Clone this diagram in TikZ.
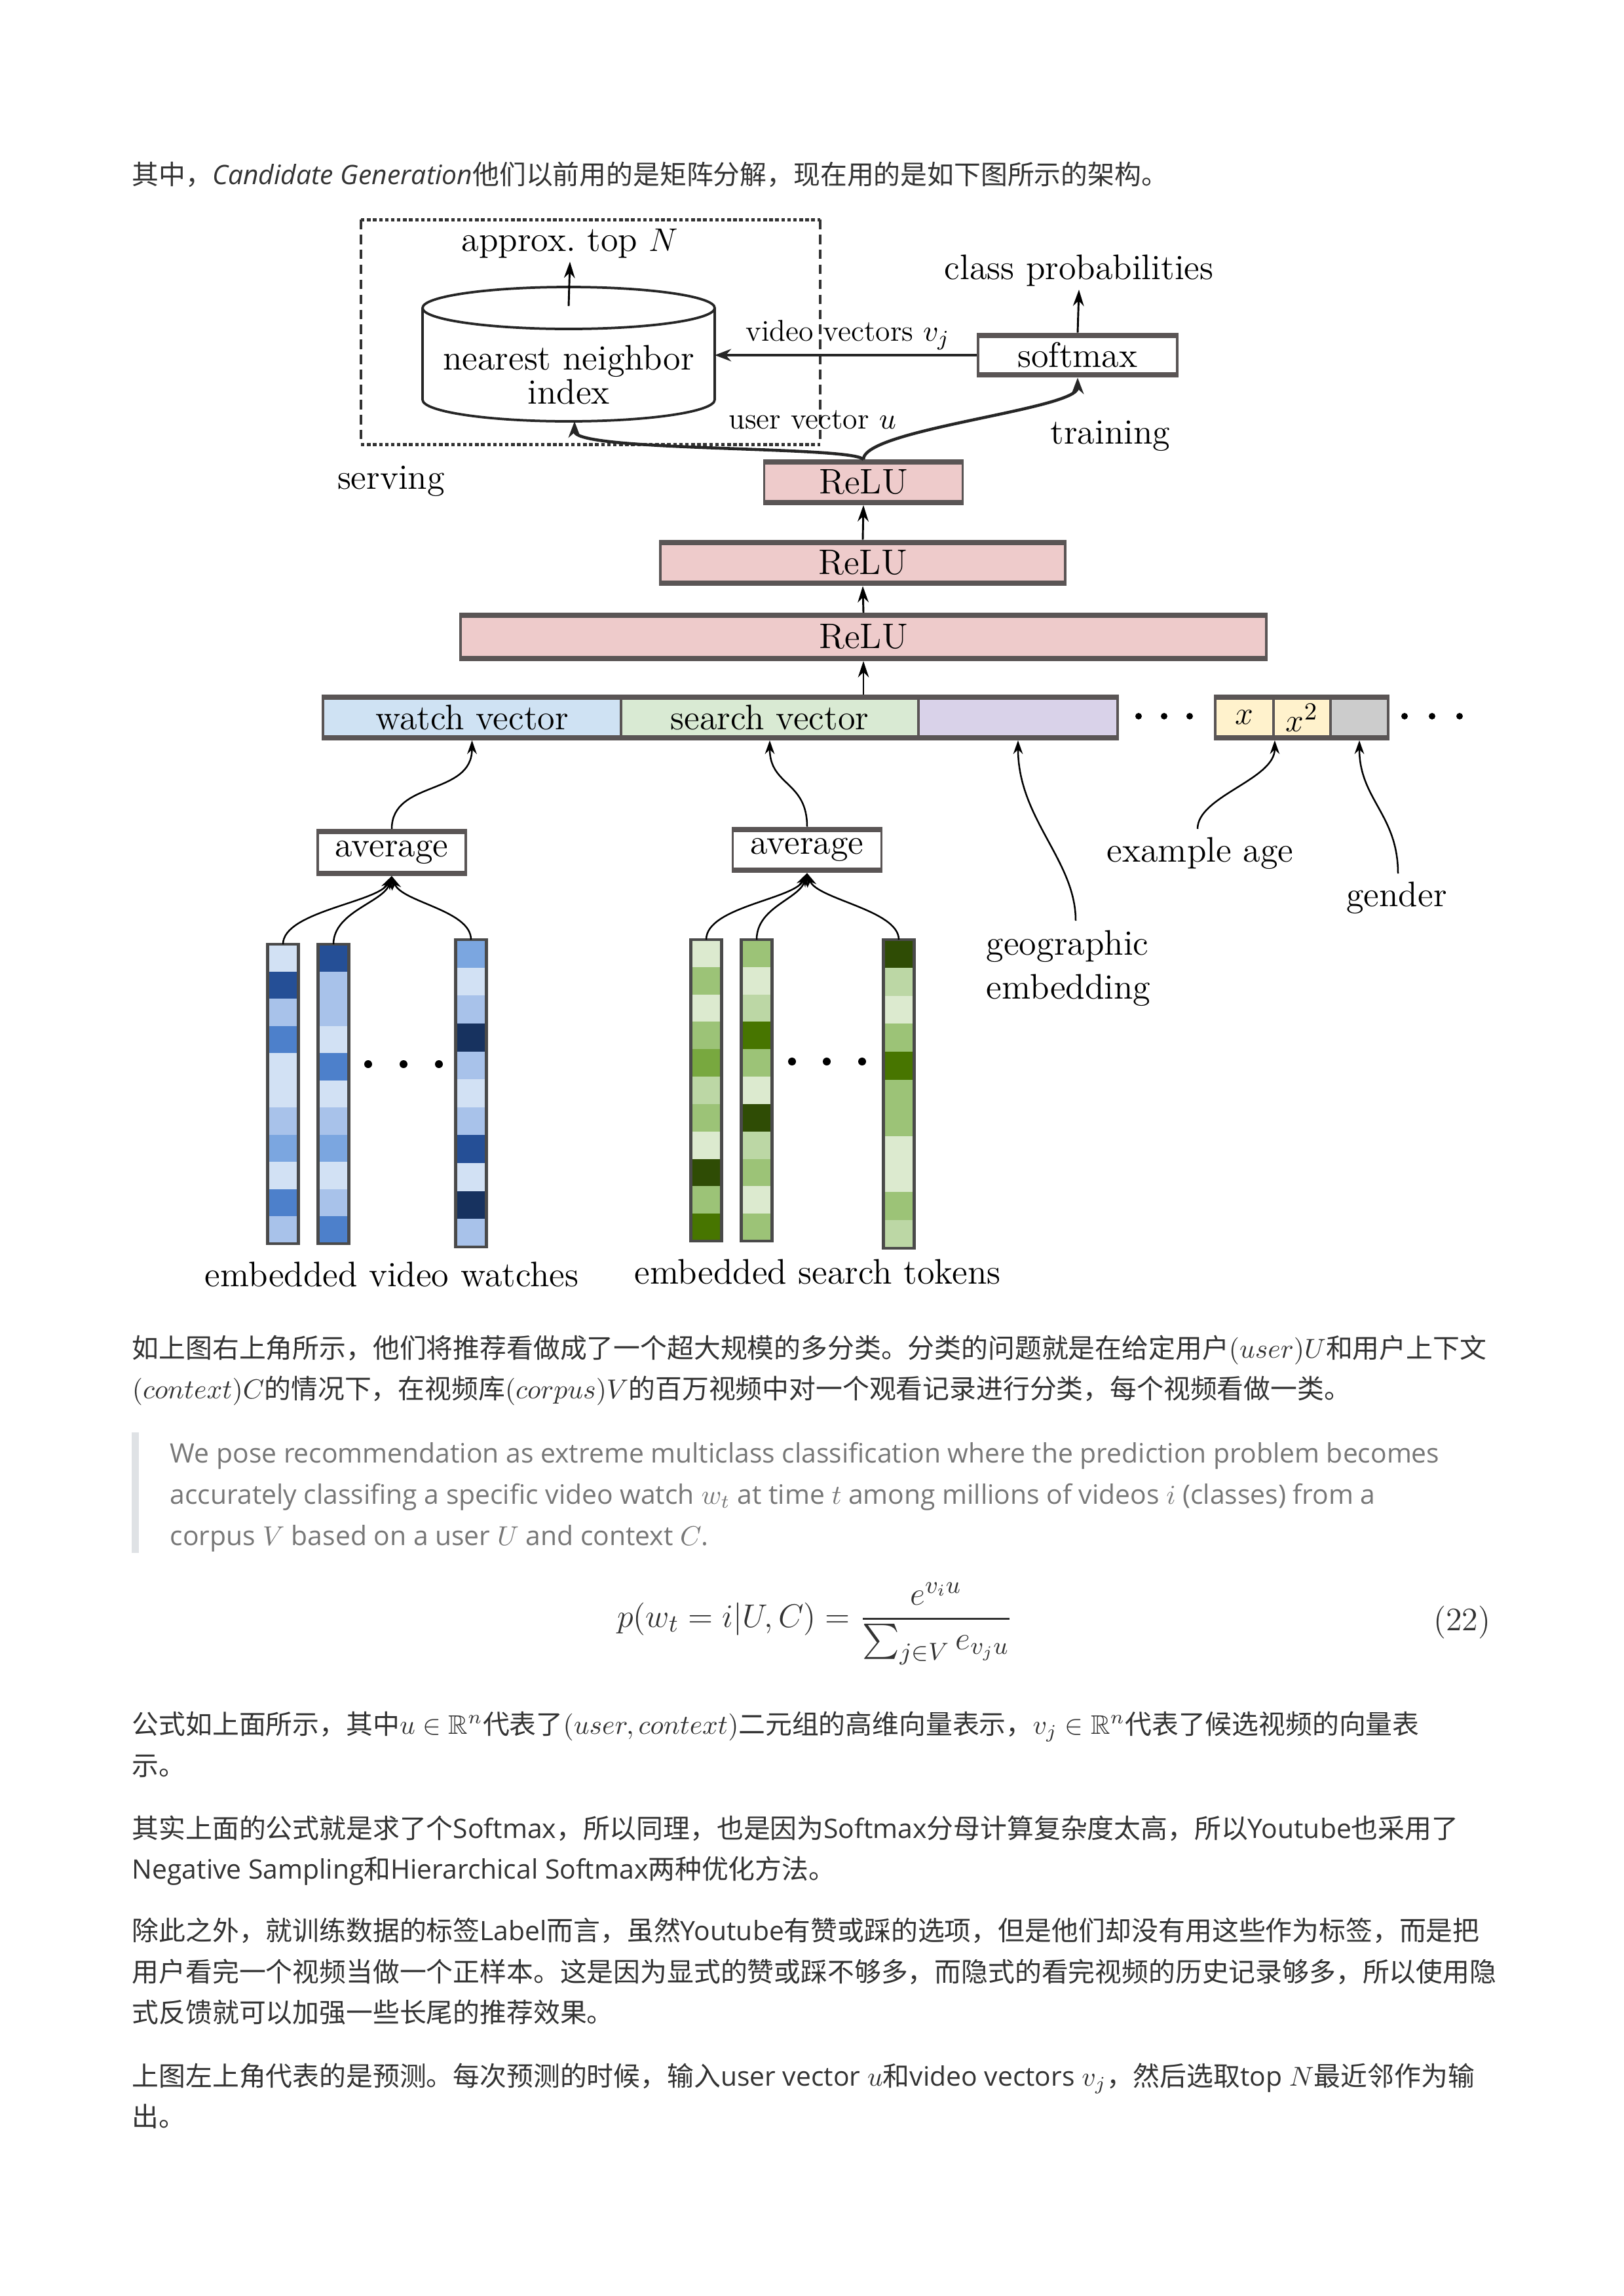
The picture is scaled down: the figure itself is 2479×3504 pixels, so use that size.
\documentclass[tikz,border=0pt]{standalone}
\usepackage{amsmath,amssymb}
\usepackage[no-math]{fontspec}
\setmainfont{Noto Sans CJK SC}
\newfontfamily\os{Open Sans}
\usetikzlibrary{arrows.meta}
\newcommand{\upx}{0.24pt}
\newcommand{\dgf}{\fontfamily{lmr}\fontsize{13}{16}\selectfont}
\newcommand{\dgs}{\fontfamily{lmr}\fontsize{11}{13}\selectfont}
\definecolor{txt}{HTML}{333333}
\definecolor{qtxt}{HTML}{777777}
\definecolor{qbar}{HTML}{DFE2E5}
\definecolor{boxline}{HTML}{5A5555}
\definecolor{colline}{HTML}{4A4A4A}
\definecolor{pinkc}{HTML}{EECBCB}
\definecolor{bluec}{HTML}{CFE2F3}
\definecolor{greenc}{HTML}{D9EAD3}
\definecolor{purplec}{HTML}{D9D2E9}
\definecolor{yellowc}{HTML}{FFF2CC}
\definecolor{grayc}{HTML}{CCCCCC}
\definecolor{B0}{HTML}{D2E1F4}
\definecolor{B1}{HTML}{A8C2EA}
\definecolor{B2}{HTML}{7BA6E0}
\definecolor{B3}{HTML}{4D80CB}
\definecolor{B4}{HTML}{254F96}
\definecolor{B5}{HTML}{17325F}
\definecolor{G0}{HTML}{DCEACF}
\definecolor{G1}{HTML}{BCD7A5}
\definecolor{G2}{HTML}{9CC377}
\definecolor{G3}{HTML}{78A83F}
\definecolor{G4}{HTML}{477500}
\definecolor{G5}{HTML}{2F4C05}
\newcommand{\embcol}[5]{%
  \pgfmathsetmacro{\segh}{(#4-#3)/11}%
  \foreach \cc [count=\ii from 0] in {#5} {\fill[\cc] ({#2-23},{#3+\ii*\segh}) rectangle ({#2+23},{#3+(\ii+1)*\segh});}%
  \node[colbox, minimum width=47*\upx, minimum height={(#4-#3)*\upx}] (#1) at (#2,{(#3+#4)/2}) {};%
}
\tikzset{
  body/.style={anchor=base west, inner sep=0pt, text=txt, font=\fontsize{9.8}{12}\selectfont},
  quote/.style={anchor=base west, inner sep=0pt, text=qtxt, font=\os\fontsize{9.8}{12}\selectfont},
  box/.style={draw=boxline, line width=0.9pt, inner sep=0pt, font=\dgf,
    path picture={\draw[line width=3pt, boxline] (path picture bounding box.north west) -- (path picture bounding box.north east) (path picture bounding box.south west) -- (path picture bounding box.south east);}},
  colbox/.style={draw=colline, line width=1pt, inner sep=0pt, outer sep=0pt},
  lbl/.style={font=\dgf, inner sep=1pt},
  arr/.style={-{Stealth[length=6pt,width=4pt]}, line width=0.7pt, black},
  arrthick/.style={-{Stealth[length=6pt,width=4.5pt]}, line width=1.1pt, black!85},
  arrthin/.style={-{Stealth[length=5pt,width=3.5pt]}, line width=0.6pt, black},
  cylline/.style={line width=0.9pt, black!85},
  hdash/.style={line width=1.2pt, black!80, dash pattern=on 1.3pt off 0.9pt},
  vdash/.style={line width=0.8pt, black!80, dash pattern=on 3.5pt off 2pt}
}
\begin{document}
\begin{tikzpicture}[x=0.24pt,y=-0.24pt]
\useasboundingbox (0,0) rectangle (2479,3504);
\fill[white] (0,0) rectangle (2479,3504);

% ---------- top line ----------
\node[body] (l0) at (201,281) {其中，{\os\itshape Candidate Generation}他们以前用的是矩阵分解，现在用的是如下图所示的架构。};

% ---------- serving box ----------
\draw[hdash] (551,335) -- (1252,335);
\draw[hdash] (551,678) -- (1252,678);
\draw[vdash] (551,335) -- (551,678);
\draw[vdash] (1252,335) -- (1252,678);

% cylinder
\draw[cylline, fill=white] (645,470) -- (645,610) arc[start angle=180, end angle=0, x radius=223, y radius=33] -- (1091,470);
\draw[cylline] (868,470) ellipse[x radius=223, y radius=32];
\coordinate (cyltop) at (868,467);
\coordinate (cylright) at (1091,542);
\coordinate (cylbot) at (877,643);
\node[font=\dgf, align=center, inner sep=0pt] (nn) at (868,572) {nearest neighbor\\[-3.5pt]index};

\node[lbl] (topn) at (870,372) {approx.\ top $N$};
\draw[arr] (cyltop) -- (topn.south);

\node[lbl] (serving) at (597,734) {serving};
\node[lbl] (training) at (1695,665) {training};

% softmax
\node[box, fill=white, minimum width=304*\upx, minimum height=65*\upx] (softmax) at (1645,542) {softmax};
\node[lbl] (classp) at (1647,413) {class probabilities};
\draw[arr] (softmax.north) -- (classp.south);
\draw[arrthick] (softmax.west) -- (cylright);
\node[font=\dgs, inner sep=0pt] (vvlab) at (1294,511) {video vectors $v_j$};

% ReLU stack
\node[box, fill=pinkc, minimum width=303*\upx, minimum height=66*\upx] (relu1) at (1318,736) {ReLU};
\node[box, fill=pinkc, minimum width=618*\upx, minimum height=67*\upx] (relu2) at (1317,859) {ReLU};
\node[box, fill=pinkc, minimum width=1230*\upx, minimum height=70*\upx] (relu3) at (1318,972) {ReLU};

\draw[arrthick] (relu1.north) .. controls (1300,680) and (877,690) .. (cylbot);
\draw[arrthick] (relu1.north) .. controls (1318,655) and (1645,625) .. (softmax.south);
\node[font=\dgs, inner sep=0pt] (uvlab) at (1240,641) {user vector $u$};

\draw[arr] (relu2.north) -- (relu1.south);
\draw[arr] (relu3.north) -- (relu2.south);

% input bar
\node[box, fill=bluec, minimum width=455*\upx, minimum height=66*\upx] (watch) at (720.5,1095) {watch vector};
\node[box, fill=greenc, minimum width=454*\upx, minimum height=66*\upx] (search) at (1175,1095) {search vector};
\node[box, fill=purplec, minimum width=304*\upx, minimum height=66*\upx] (purple) at (1554,1095) {};
\node[box, fill=yellowc, minimum width=89*\upx, minimum height=66*\upx] (xcell) at (1899.5,1095) {$x$};
\node[box, fill=yellowc, minimum width=87*\upx, minimum height=66*\upx] (x2cell) at (1987.5,1095) {$x^2$};
\node[box, fill=grayc, minimum width=88*\upx, minimum height=66*\upx] (gcell) at (2075,1095) {};
\draw[arr] (relu3.south |- search.north) -- (relu3.south);

\foreach \xx in {1738,1777,1816,2144,2186,2228} \fill[black] (\xx,1093) circle[radius=5];

% averages
\node[box, fill=white, minimum width=226*\upx, minimum height=68*\upx] (avg1) at (598,1301) {average};
\node[box, fill=white, minimum width=227*\upx, minimum height=67*\upx] (avg2) at (1232,1297) {average};
\draw[arrthin] (avg1.north) .. controls +(0,-75) and +(0,85) .. (watch.south);
\draw[arrthin] (avg2.north) .. controls +(0,-70) and +(0,70) .. (search.south);

% side features
\node[font=\dgf, align=left, anchor=west, inner sep=0pt] (geo) at (1505,1478) {geographic\\embedding};
\coordinate (geotop) at (1642,1405);
\draw[arrthin] (geotop) .. controls +(0,-92) and +(0,120) .. (purple.south);
\node[lbl] (age) at (1832,1302) {example age};
\coordinate (agetop) at (1828,1265);
\draw[arrthin] (agetop) .. controls +(0,-50) and +(0,60) .. (xcell.south east);
\node[lbl] (gender) at (2132,1370) {gender};
\coordinate (gendtop) at (2134,1333);
\draw[arrthin] (gendtop) .. controls +(0,-90) and +(0,90) .. (gcell.south);

% embedding columns
\embcol{c1}{432}{1441}{1898}{B0,B4,B1,B3,B0,B0,B1,B2,B0,B3,B1}
\embcol{c2}{509}{1441}{1898}{B4,B1,B1,B0,B3,B0,B1,B2,B0,B1,B3}
\embcol{c3}{719}{1434}{1903}{B2,B0,B1,B5,B1,B0,B1,B4,B0,B5,B1}
\embcol{c4}{1078}{1434}{1894}{G0,G2,G0,G2,G3,G1,G2,G0,G5,G2,G4}
\embcol{c5}{1155}{1434}{1894}{G2,G0,G1,G4,G2,G0,G5,G1,G2,G0,G2}
\embcol{c6}{1372}{1434}{1905}{G5,G1,G0,G2,G4,G2,G2,G0,G0,G2,G1}

\draw[arrthin] (c1.north) .. controls +(0,-50) and +(-20,40) .. (avg1.south);
\draw[arrthin] (c2.north) .. controls +(0,-50) and +(-12,40) .. (avg1.south);
\draw[arrthin] (c3.north) .. controls +(0,-45) and +(15,40) .. (avg1.south);
\draw[arrthin] (c4.north) .. controls +(0,-50) and +(-20,40) .. (avg2.south);
\draw[arrthin] (c5.north) .. controls +(0,-50) and +(-12,40) .. (avg2.south);
\draw[arrthin] (c6.north) .. controls +(0,-45) and +(15,40) .. (avg2.south);

\foreach \xx in {562,616,670} \fill[black] (\xx,1624) circle[radius=6];
\foreach \xx in {1209,1262,1316} \fill[black] (\xx,1620) circle[radius=6];

\node[lbl] (evw) at (598,1945) {embedded video watches};
\node[lbl] (est) at (1248,1941) {embedded search tokens};

% ---------- paragraph 1 ----------
\node[body] (p1a) at (201,2072) {如上图右上角所示，他们将推荐看做成了一个超大规模的多分类。分类的问题就是在给定用户$(user)U$和用户上下文};
\node[body] (p1b) at (201,2134) {$(context)C$的情况下，在视频库$(corpus)V$的百万视频中对一个观看记录进行分类，每个视频看做一类。};

% ---------- quote ----------
\fill[qbar] (201,2186) rectangle (212,2370);
\node[quote] (q1) at (259,2232) {We pose recommendation as extreme multiclass classification where the prediction problem becomes};
\node[quote] (q2) at (259,2295) {accurately classifing a specific video watch $w_t$ at time $t$ among millions of videos $i$ (classes) from a};
\node[quote] (q3) at (259,2358) {corpus $V$ based on a user $U$ and context $C$.};

% ---------- equation ----------
\node[inner sep=0pt, text=txt, font=\fontsize{12.9}{15}\selectfont] (eq) at (1244,2478) {$\displaystyle p(w_t=i|U,C)=\frac{e^{v_i u}}{\sum_{j\in V} e_{v_j u}}$};
\node[inner sep=0pt, anchor=east, text=txt, font=\fontsize{12}{14}\selectfont] (eqn) at (2276,2476) {$(22)$};

% ---------- paragraphs ----------
\node[body] (p3a) at (201,2646) {公式如上面所示，其中$u\in\mathbb{R}^n$代表了$(user,context)$二元组的高维向量表示，$v_j\in\mathbb{R}^n$代表了候选视频的向量表};
\node[body] (p3b) at (201,2709) {示。};
\node[body] (p4a) at (201,2805) {其实上面的公式就是求了个{\os Softmax}，所以同理，也是因为{\os Softmax}分母计算复杂度太高，所以{\os Youtube}也采用了};
\node[body] (p4b) at (201,2867) {{\os Negative Sampling}和{\os Hierarchical Softmax}两种优化方法。};
\node[body] (p5a) at (201,2961) {除此之外，就训练数据的标签{\os Label}而言，虽然{\os Youtube}有赞或踩的选项，但是他们却没有用这些作为标签，而是把};
\node[body] (p5b) at (201,3024) {用户看完一个视频当做一个正样本。这是因为显式的赞或踩不够多，而隐式的看完视频的历史记录够多，所以使用隐};
\node[body] (p5c) at (201,3086) {式反馈就可以加强一些长尾的推荐效果。};
\node[body] (p6a) at (201,3183) {上图左上角代表的是预测。每次预测的时候，输入{\os user vector }$u$和{\os video vectors }$v_j$，然后选取{\os top }$N$最近邻作为输};
\node[body] (p6b) at (201,3245) {出。};
\end{tikzpicture}
\end{document}
